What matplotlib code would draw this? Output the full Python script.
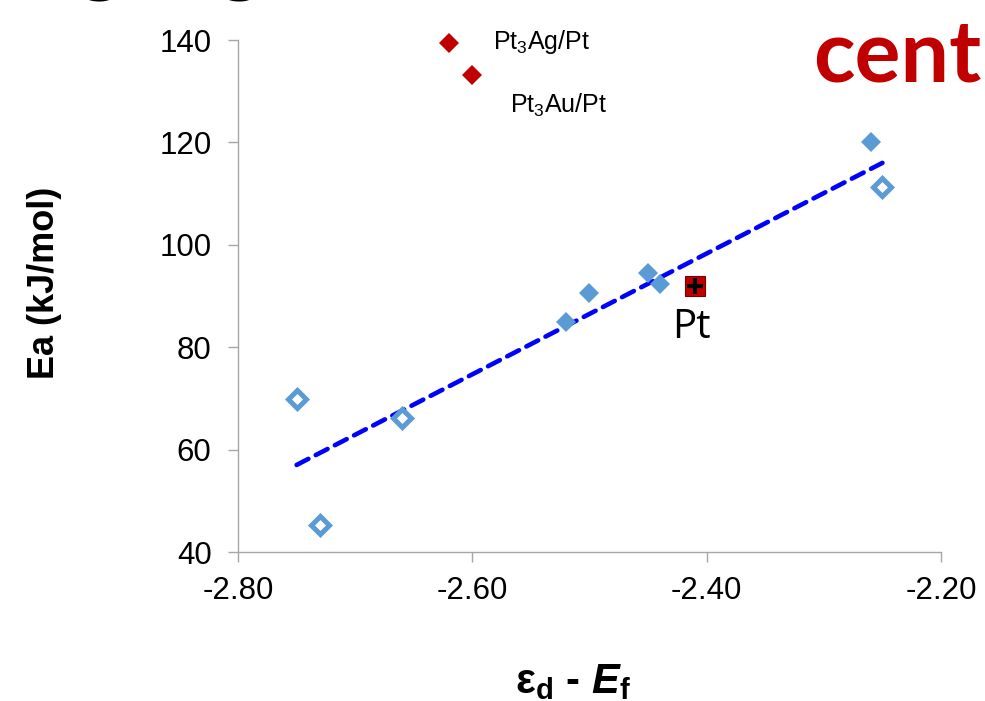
import matplotlib
matplotlib.use('Agg')
import matplotlib.pyplot as plt

plt.rcParams['font.family'] = ['Liberation Sans', 'DejaVu Sans']
plt.rcParams['mathtext.fontset'] = 'custom'
plt.rcParams['mathtext.rm'] = 'Liberation Sans'
plt.rcParams['mathtext.it'] = 'Liberation Sans:italic'
plt.rcParams['mathtext.bf'] = 'Liberation Sans:bold'
plt.rcParams['mathtext.bfit'] = 'Liberation Sans:italic:bold'

# data
filled_x = [-2.52, -2.50, -2.45, -2.44, -2.26]
filled_y = [85, 90.5, 94.5, 92.4, 120]
open_x = [-2.75, -2.73, -2.66, -2.25]
open_y = [69.9, 45.2, 66.2, 111.3]
alloy_x = [-2.62, -2.60]
alloy_y = [139.4, 133.2]
alloy_names = ['Pt$_3$Ag/Pt', 'Pt$_3$Au/Pt']
pt_x = [-2.41]
pt_y = [92]
trend_x = [-2.75, -2.25]
trend_y = [57.0, 116.0]

x_ticks = [-2.80, -2.60, -2.40, -2.20]
y_ticks = [40, 60, 80, 100, 120, 140]

blue = '#5B9BD5'
red = '#C00000'
gray = '#A6A6A6'

fig = plt.figure(figsize=(9.85, 7.01), dpi=100)
ax = fig.add_axes([238 / 985, 149 / 701, 703 / 985, 512 / 701])

# trend line
ax.plot(trend_x, trend_y, color='#0000FF', lw=3.3, dashes=(2.9, 1.8),
        dash_capstyle='round', zorder=2)

ax.plot(filled_x, filled_y, 'D', color=blue, ms=10.5, mew=0, zorder=3)
ax.plot(open_x, open_y, 'D', mfc='white', mec=blue, ms=9.5, mew=3.6, zorder=3)
ax.plot(alloy_x, alloy_y, 'D', color=red, ms=10, mew=0, zorder=3, clip_on=False)

# Pt point: red square with black cross
ax.plot(pt_x, pt_y, 's', mfc=red, mec='#7a0000', ms=15, mew=0.8, zorder=4)
ax.plot(pt_x, pt_y, '+', color='black', ms=12, mew=3, zorder=5)
ax.text(pt_x[0] - 0.003, 81.8, 'Pt', family='Open Sans', fontsize=29,
        ha='center', va='baseline')

# labels for the alloy points
ax.text(-2.582, 139.6, alloy_names[0], fontsize=18, va='center', ha='left')
ax.text(-2.568, 127.3, alloy_names[1], fontsize=18, va='center', ha='left')

ax.set_xlim(-2.80, -2.20)
ax.set_ylim(40, 140)
ax.set_xticks(x_ticks)
ax.set_xticklabels(['%.2f' % v for v in x_ticks])
ax.set_yticks(y_ticks)
ax.tick_params(axis='both', labelsize=22.5, color=gray, length=7, width=1)
ax.tick_params(axis='x', pad=10)
ax.tick_params(axis='y', pad=12)
for side in ['top', 'right']:
    ax.spines[side].set_visible(False)
for side in ['left', 'bottom']:
    ax.spines[side].set_color(gray)
    ax.spines[side].set_linewidth(1)

ax.set_ylabel('Ea (kJ/mol)', fontsize=26, fontweight='bold')
ax.yaxis.set_label_coords(-0.2504, 0.525)

fig.text(573 / 985, 8 / 701, r'ε$_\mathbf{d}$ - $\mathbfit{E}_\mathbf{f}$',
         fontsize=30, fontweight='bold', ha='center', va='baseline')

# slide leftovers around the chart
fig.text(813 / 985, 1 - 82 / 701, 'cent', family='Lato', fontweight='bold',
         fontsize=62, color=red, ha='left', va='baseline')
fig.text(100 / 985, 1 + 16 / 701, 'g', family='Lato', fontweight='bold',
         fontsize=64, color='black', ha='center', va='baseline')
fig.text(240 / 985, 1 + 16 / 701, 'g', family='Lato', fontweight='bold',
         fontsize=64, color='black', ha='center', va='baseline')

fig.savefig('out.png', dpi=100)
